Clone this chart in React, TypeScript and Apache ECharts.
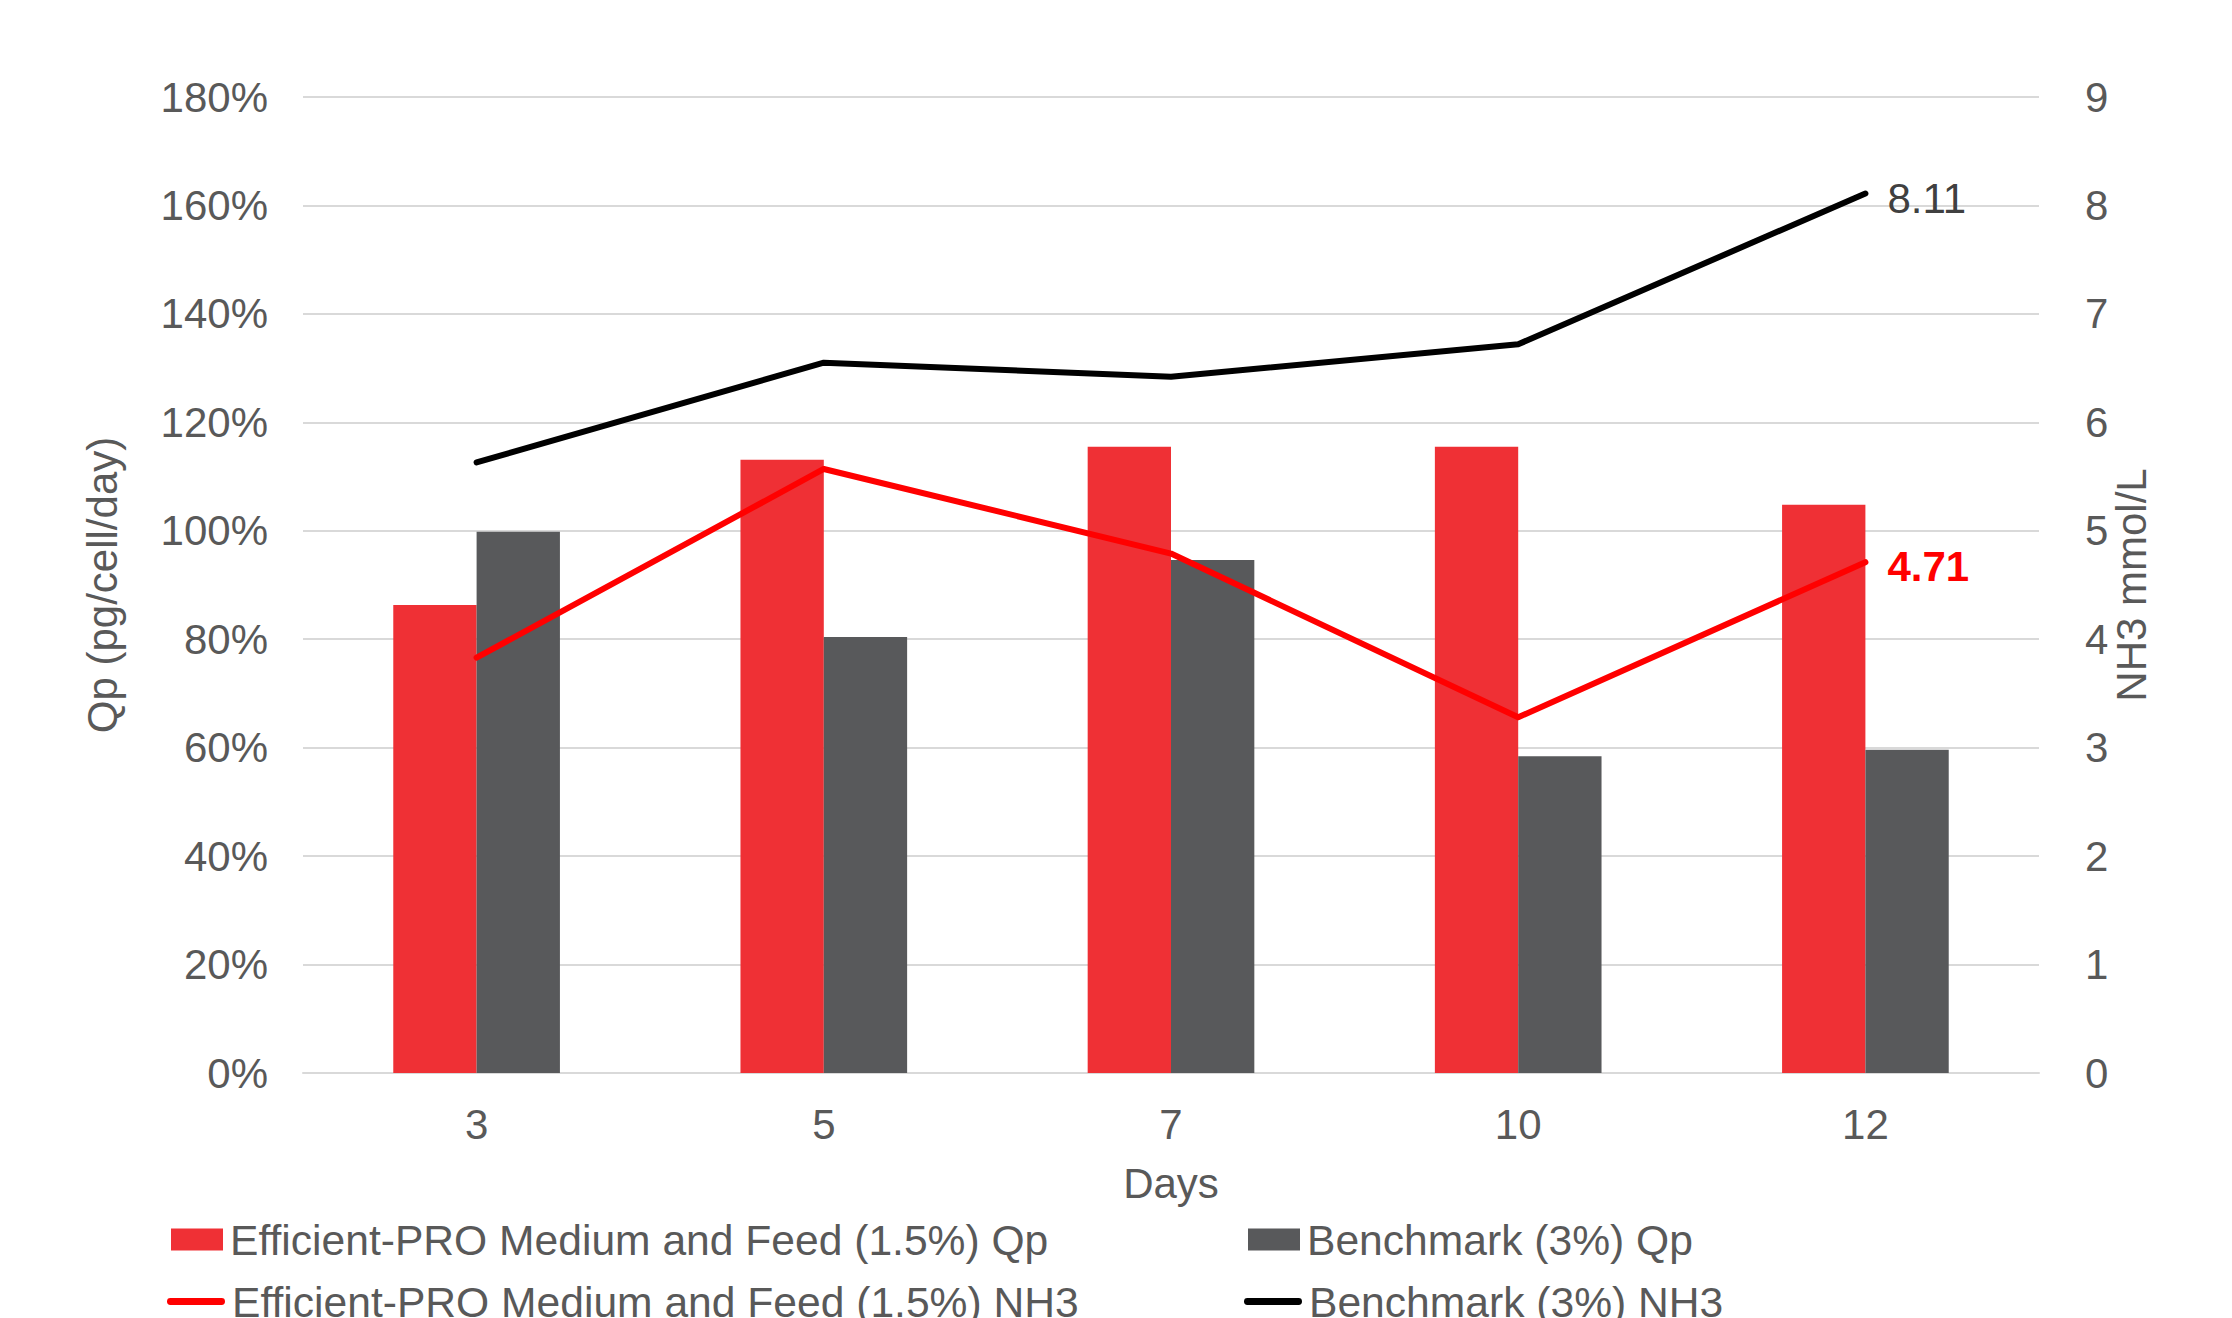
import React, { useEffect, useRef } from "react";
import * as echarts from "echarts";

const days = ["3", "5", "7", "10", "12"];
const qpEfficient = [86.3, 113.1, 115.5, 115.5, 104.8];
const qpBenchmark = [99.8, 80.4, 94.6, 58.4, 59.6];
const nh3Efficient = [3.83, 5.57, 4.79, 3.28, 4.71];
const nh3Benchmark = [5.63, 6.55, 6.42, 6.72, 8.11];
const leftTicks = { min: 0, max: 180, interval: 20 };
const rightTicks = { min: 0, max: 9, interval: 1 };

const NAME_EFF_QP = "Efficient-PRO Medium and Feed (1.5%) Qp";
const NAME_BEN_QP = "Benchmark (3%) Qp";
const NAME_EFF_NH3 = "Efficient-PRO Medium and Feed (1.5%) NH3";
const NAME_BEN_NH3 = "Benchmark (3%) NH3";

const FONT = "'Liberation Sans', Arial, Helvetica, sans-serif";
const TEXT = "#595959";
const LINE_ICON = "path://M3.5,0 L56.5,0 A3.5,3.5 0 0 1 56.5,7 L3.5,7 A3.5,3.5 0 0 1 3.5,0 Z";

export default function App() {
  const ref = useRef<HTMLDivElement>(null);
  useEffect(() => {
    document.body.style.margin = "0";
    if (!ref.current) return;
    const chart = echarts.init(ref.current, undefined, { renderer: "svg" });
    const legendBase = {
      orient: "horizontal" as const,
      padding: 0,
      itemWidth: 52,
      itemHeight: 22,
      textStyle: { fontFamily: FONT, fontSize: 42.6, color: TEXT, padding: [0, 0, 0, 2] },
      selectedMode: false,
    };
    chart.setOption({
      animation: false,
      backgroundColor: "#ffffff",
      textStyle: { fontFamily: FONT },
      grid: { left: 303, right: 193, top: 97, bottom: 245, containLabel: false },
      legend: [
        { ...legendBase, left: 171, top: 1218, data: [{ name: NAME_EFF_QP, icon: "rect" }] },
        { ...legendBase, left: 1248, top: 1218, data: [{ name: NAME_BEN_QP, icon: "rect" }] },
        { ...legendBase, left: 167, top: 1280, itemWidth: 58, data: [{ name: NAME_EFF_NH3, icon: LINE_ICON }] },
        { ...legendBase, left: 1244, top: 1280, itemWidth: 58, data: [{ name: NAME_BEN_NH3, icon: LINE_ICON }] },
      ],
      xAxis: {
        type: "category",
        data: days,
        name: "Days",
        nameLocation: "middle",
        nameGap: 89,
        nameTextStyle: { fontFamily: FONT, fontSize: 42, color: TEXT },
        axisLine: { lineStyle: { color: "#D9D9D9", width: 2 } },
        axisTick: { show: false },
        axisLabel: { fontFamily: FONT, fontSize: 42, color: TEXT, margin: 30 },
      },
      yAxis: [
        {
          type: "value",
          min: leftTicks.min,
          max: leftTicks.max,
          interval: leftTicks.interval,
          name: "Qp (pg/cell/day)",
          nameLocation: "middle",
          nameRotate: 90,
          nameGap: 180,
          nameTextStyle: { fontFamily: FONT, fontSize: 42, color: TEXT },
          axisLine: { show: false },
          axisTick: { show: false },
          axisLabel: { fontFamily: FONT, fontSize: 42, color: TEXT, margin: 35, formatter: "{value}%" },
          splitLine: { lineStyle: { color: "#D9D9D9", width: 2 } },
        },
        {
          type: "value",
          min: rightTicks.min,
          max: rightTicks.max,
          interval: rightTicks.interval,
          name: "NH3 mmol/L",
          nameLocation: "middle",
          nameRotate: 90,
          nameGap: 71,
          nameMoveOverlap: false,
          nameTextStyle: { fontFamily: FONT, fontSize: 42, color: TEXT },
          axisLine: { show: false },
          axisTick: { show: false },
          axisLabel: { fontFamily: FONT, fontSize: 42, color: TEXT, margin: 46 },
          splitLine: { show: false },
        },
      ],
      series: [
        {
          name: NAME_EFF_QP,
          type: "bar",
          data: qpEfficient,
          barWidth: "24%",
          barGap: "0%",
          itemStyle: { color: "#EF3035" },
          z: 2,
        },
        {
          name: NAME_BEN_QP,
          type: "bar",
          data: qpBenchmark,
          barWidth: "24%",
          barGap: "0%",
          itemStyle: { color: "#58595B" },
          z: 2,
        },
        {
          name: NAME_EFF_NH3,
          type: "line",
          yAxisIndex: 1,
          data: nh3Efficient,
          symbol: "none",
          lineStyle: { color: "#FF0000", width: 6, cap: "round", join: "round" },
          itemStyle: { color: "#FF0000" },
          endLabel: {
            show: true,
            distance: 22,
            formatter: (p: any) => String(p.value),
            fontFamily: FONT,
            fontSize: 42,
            fontWeight: "bold",
            color: "#FF0000",
            offset: [0, 4],
          },
          z: 5,
        },
        {
          name: NAME_BEN_NH3,
          type: "line",
          yAxisIndex: 1,
          data: nh3Benchmark,
          symbol: "none",
          lineStyle: { color: "#000000", width: 6, cap: "round", join: "round" },
          itemStyle: { color: "#000000" },
          endLabel: {
            show: true,
            distance: 22,
            formatter: (p: any) => String(p.value),
            fontFamily: FONT,
            fontSize: 42,
            color: "#404040",
            offset: [0, 5],
          },
          z: 5,
        },
      ],
    });
    return () => chart.dispose();
  }, []);
  return <div ref={ref} style={{ width: 2232, height: 1318 }} />;
}
